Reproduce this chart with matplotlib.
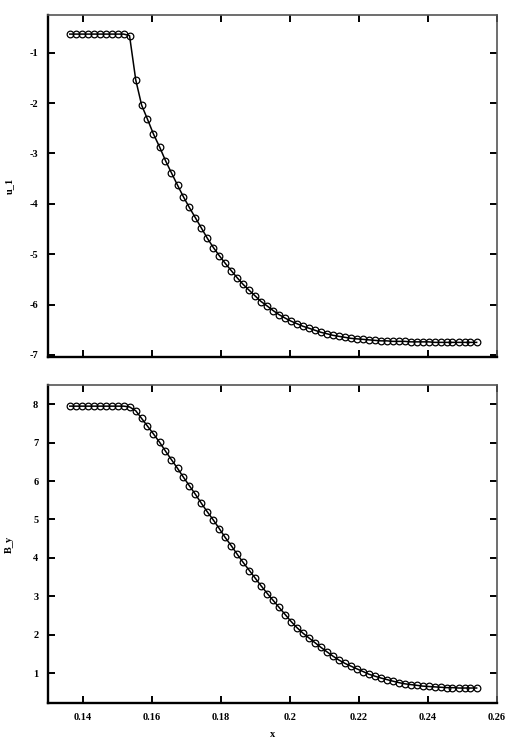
import matplotlib

matplotlib.use("Agg")
import matplotlib.pyplot as plt

plt.rcParams["font.family"] = ["Liberation Serif", "DejaVu Serif"]
plt.rcParams["axes.unicode_minus"] = False

# x positions of the markers
X = [0.1363, 0.1380, 0.1398, 0.1415, 0.1432, 0.1450, 0.1467, 0.1484, 0.1502, 0.1519,
     0.1536, 0.1554, 0.1571, 0.1588, 0.1605, 0.1623, 0.1640, 0.1657, 0.1675, 0.1692,
     0.1709, 0.1727, 0.1744, 0.1761, 0.1779, 0.1796, 0.1813, 0.1831, 0.1848, 0.1865,
     0.1883, 0.1900, 0.1917, 0.1935, 0.1952, 0.1969, 0.1987, 0.2004, 0.2021, 0.2038,
     0.2056, 0.2073, 0.2090, 0.2108, 0.2125, 0.2142, 0.2160, 0.2177, 0.2194, 0.2212,
     0.2229, 0.2246, 0.2264, 0.2281, 0.2298, 0.2316, 0.2333, 0.2350, 0.2368, 0.2385,
     0.2402, 0.2420, 0.2437, 0.2454, 0.2471, 0.2489, 0.2506, 0.2523, 0.2541]

U1 = [-0.63, -0.63, -0.63, -0.63, -0.63, -0.63, -0.63, -0.63, -0.63, -0.63,
      -0.66, -1.54, -2.04, -2.32, -2.61, -2.87, -3.14, -3.38, -3.63, -3.86,
      -4.07, -4.28, -4.48, -4.68, -4.87, -5.03, -5.18, -5.33, -5.47, -5.60,
      -5.72, -5.83, -5.94, -6.03, -6.12, -6.20, -6.27, -6.33, -6.38, -6.43,
      -6.47, -6.51, -6.55, -6.58, -6.61, -6.63, -6.65, -6.67, -6.68, -6.69,
      -6.70, -6.71, -6.72, -6.72, -6.73, -6.73, -6.73, -6.74, -6.74, -6.74,
      -6.74, -6.75, -6.75, -6.75, -6.75, -6.75, -6.75, -6.75, -6.75]

BY = [7.95, 7.95, 7.95, 7.95, 7.95, 7.95, 7.95, 7.95, 7.95, 7.95,
      7.93, 7.83, 7.63, 7.43, 7.23, 7.01, 6.78, 6.56, 6.33, 6.10,
      5.88, 5.65, 5.42, 5.20, 4.98, 4.76, 4.53, 4.31, 4.09, 3.88,
      3.67, 3.47, 3.27, 3.07, 2.89, 2.71, 2.52, 2.34, 2.18, 2.04,
      1.91, 1.79, 1.67, 1.55, 1.44, 1.34, 1.25, 1.18, 1.11, 1.04,
      0.97, 0.92, 0.87, 0.83, 0.79, 0.75, 0.72, 0.70, 0.68, 0.66,
      0.65, 0.64, 0.63, 0.62, 0.62, 0.61, 0.61, 0.61, 0.61]

X_TICKS = [0.14, 0.16, 0.18, 0.2, 0.22, 0.24, 0.26]
X_TICKLABELS = ["0.14", "0.16", "0.18", "0.2", "0.22", "0.24", "0.26"]
U1_TICKS = [-1, -2, -3, -4, -5, -6, -7]
BY_TICKS = [1, 2, 3, 4, 5, 6, 7, 8]


def _style(ax):
    for side in ("left", "bottom"):
        ax.spines[side].set_linewidth(1.7)
        ax.spines[side].set_color("black")
    for side in ("top", "right"):
        ax.spines[side].set_linewidth(1.2)
        ax.spines[side].set_color("#555555")
    ax.tick_params(direction="in", length=5, width=1.4, top=True, right=True,
                   labelsize=7.5, pad=7)
    for lab in ax.get_xticklabels() + ax.get_yticklabels():
        lab.set_fontweight("bold")
    ax.set_xlim(0.13, 0.26)


def _curve(ax, y):
    ax.plot(X, y, "-", color="black", linewidth=1.1, marker="o", markersize=4.8,
            markerfacecolor="none", markeredgecolor="black", markeredgewidth=0.9)


fig = plt.figure(figsize=(5.18, 7.40), dpi=100)
ax1 = fig.add_axes([0.0927, 0.5176, 0.8668, 0.4622])
ax2 = fig.add_axes([0.0927, 0.0500, 0.8668, 0.4297])

_curve(ax1, U1)
ax1.set_xticks(X_TICKS)
ax1.set_xticklabels([])
ax1.set_yticks(U1_TICKS)
ax1.set_yticklabels([str(v) for v in U1_TICKS])
_style(ax1)
ax1.set_ylim(-7.04, -0.25)
ax1.set_ylabel("u_1", fontsize=7.5, fontweight="bold")
ax1.yaxis.set_label_coords(-0.075, 0.5)

_curve(ax2, BY)
ax2.set_xticks(X_TICKS)
ax2.set_xticklabels(X_TICKLABELS)
ax2.set_yticks(BY_TICKS)
ax2.set_yticklabels([str(v) for v in BY_TICKS])
_style(ax2)
ax2.set_ylim(0.22, 8.5)
ax2.set_ylabel("B_y", fontsize=7.5, fontweight="bold")
ax2.yaxis.set_label_coords(-0.075, 0.5)
ax2.set_xlabel("x", fontsize=7.5, fontweight="bold", labelpad=6)

fig.savefig("out.png", dpi=100)
